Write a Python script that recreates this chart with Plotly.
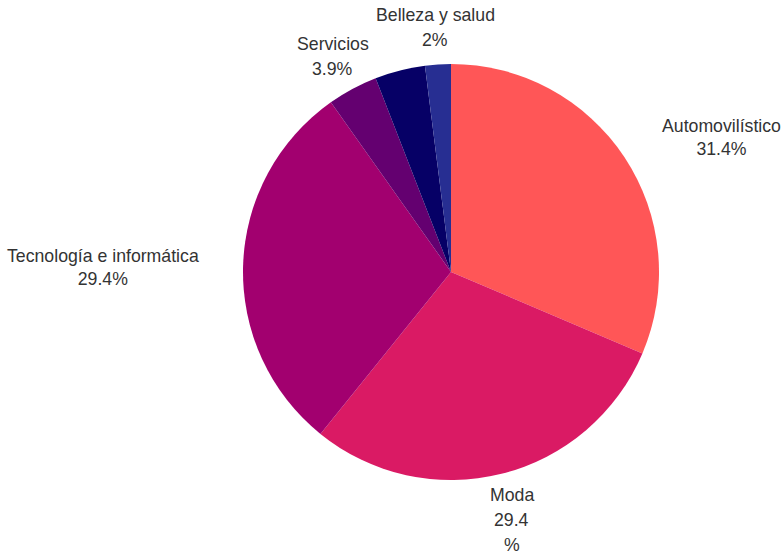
import math
import plotly.graph_objects as go

# Market share by sector (percent)
sectors = ["Automovilístico", "Moda", "Tecnología e informática",
           "Servicios", "Otros", "Belleza y salud"]
shares = [31.4, 29.4, 29.4, 3.9, 3.9, 2.0]
label_lines = [["Automovilístico", "31.4%"], ["Moda", "29.4", "%"],
               ["Tecnología e informática", "29.4%"], ["Servicios", "3.9%"],
               None, ["Belleza y salud", "2%"]]
colors = ["#FF5657", "#DA1A64", "#A2006F", "#640070", "#060066", "#272E92"]

W, H = 781, 555
CX, CY, R = 451, 272, 208      # pie centre and radius in pixels
LABEL_R = 250                  # distance of the label centres from the centre
LABEL_DY = 3                   # labels sit slightly below the radial point
LINE_H = 25                    # line height of stacked label text
FONT = dict(family="Liberation Sans, Arial, sans-serif", size=17.7,
            color="#333333")

fig = go.Figure(go.Pie(
    labels=sectors,
    values=shares,
    sort=False,
    direction="clockwise",
    rotation=0,
    marker=dict(colors=colors, line=dict(width=0)),
    textinfo="none",
    hoverinfo="label+percent",
    showlegend=False,
    domain=dict(x=[(CX - R) / W, (CX + R) / W],
                y=[1 - (CY + R) / H, 1 - (CY - R) / H]),
))

# Labels placed outside each slice at its mid angle
total = sum(shares)
cum = 0.0
annotations = []
for val, lines in zip(shares, label_lines):
    mid = (cum + val / 2) / total * 2 * math.pi
    cum += val
    if lines is None:
        continue
    s, c = math.sin(mid), math.cos(mid)
    px = CX + LABEL_R * s
    py = CY - LABEL_R * c + LABEL_DY
    if abs(s) > 0.6:
        # side labels: one centred text block anchored on the pie side
        annotations.append(dict(
            x=px / W, y=1 - py / H, xref="paper", yref="paper",
            text="<br>".join(lines), showarrow=False,
            xanchor="left" if s > 0 else "right", yanchor="middle",
            align="center", font=FONT,
        ))
    else:
        # top / bottom labels: stacked centred lines
        n = len(lines)
        for i, line in enumerate(lines):
            ly = py + 2 + (i - (n - 1) / 2) * LINE_H
            annotations.append(dict(
                x=px / W, y=1 - ly / H, xref="paper", yref="paper",
                text=line, showarrow=False, xanchor="center",
                yanchor="middle", font=FONT,
            ))

fig.update_layout(
    width=W, height=H,
    margin=dict(l=0, r=0, t=0, b=0),
    paper_bgcolor="white",
    plot_bgcolor="white",
    annotations=annotations,
)

fig.write_html("out.html")
